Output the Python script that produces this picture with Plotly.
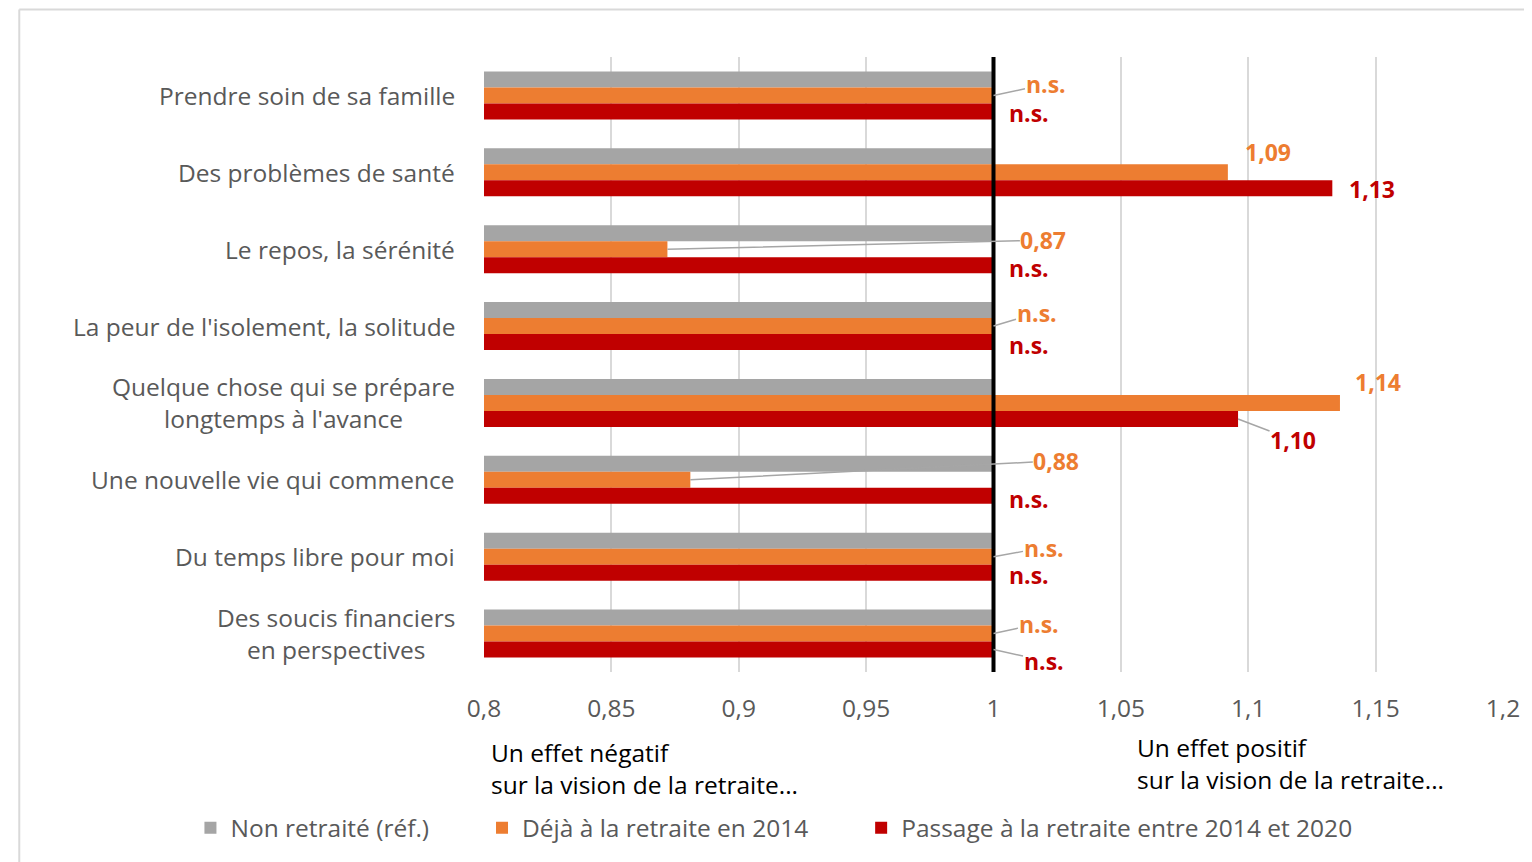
import plotly.graph_objects as go

categories = [
    "Prendre soin de sa famille",
    "Des problèmes de santé",
    "Le repos, la sérénité",
    "La peur de l'isolement, la solitude",
    "Quelque chose qui se prépare<br>longtemps à l'avance",
    "Une nouvelle vie qui commence",
    "Du temps libre pour moi",
    "Des soucis financiers<br>en perspectives",
]
non_retraite = [1, 1, 1, 1, 1, 1, 1, 1]
deja_retraite = [1, 1.092, 0.872, 1, 1.136, 0.881, 1, 1]
passage_retraite = [1, 1.133, 1, 1, 1.096, 1, 1, 1]
labels_deja = ["n.s.", "1,09", "0,87", "n.s.", "1,14", "0,88", "n.s.", "n.s."]
labels_passage = ["n.s.", "1,13", "n.s.", "n.s.", "1,10", "n.s.", "n.s.", "n.s."]
series_names = ["Non retraité (réf.)", "Déjà à la retraite en 2014",
                "Passage à la retraite entre 2014 et 2020"]
x_ticks = [0.8, 0.85, 0.9, 0.95, 1, 1.05, 1.1, 1.15, 1.2]
x_ticktext = ["0,8", "0,85", "0,9", "0,95", "1", "1,05", "1,1", "1,15", "1,2"]

GRAY = "#A5A5A5"
ORANGE = "#ED7D31"
RED = "#C00000"
FONT = "Open Sans"
TXT = "#595959"

OFF = 8  # page body margin
W, H = 1532 - OFF, 862 - OFF
ML, MT = 484 - OFF, 57 - OFF
MR = W - (1508 - OFF)
MB = H - (673 - OFF)
PW = W - ML - MR
PH = H - MT - MB


def px_x(px):
    return (px - OFF - ML) / PW


def px_y(py):
    return (H - MB - (py - OFF)) / PH


fig = go.Figure()
for name, vals, col, lg in zip(series_names,
                               [non_retraite, deja_retraite, passage_retraite],
                               [GRAY, ORANGE, RED],
                               ["legend", "legend2", "legend3"]):
    fig.add_trace(go.Bar(y=categories, x=vals, orientation="h", name=name,
                         marker=dict(color=col, line=dict(width=0)),
                         legend=lg))

FS = 24.5
annotations = []
for c in categories:
    annotations.append(dict(xref="paper", x=px_x(457), y=c, yref="y",
                            text=c, showarrow=False, xanchor="right",
                            align="center", font=dict(family=FONT, size=FS, color=TXT)))

orange_pos = [
    ("arrow", 52, -11), ("shift", 40, 20), ("arrow", 376, -9), ("arrow", 43, -13),
    ("shift", 38, 21), ("arrow", 366, -19), ("arrow", 50, -9), ("arrow", 45, -10),
]
LFS = 23
for c, v, t, (mode, dx, dy) in zip(categories, deja_retraite, labels_deja, orange_pos):
    f = dict(family=FONT, size=LFS, color=ORANGE)
    if mode == "arrow":
        annotations.append(dict(x=v, y=c, xref="x", yref="y", text="<b>" + t + "</b>",
                                showarrow=True, ax=dx, ay=dy, arrowhead=0, arrowwidth=1.5,
                                arrowcolor="#A6A6A6", standoff=0, borderpad=0, font=f))
    else:
        annotations.append(dict(x=v, y=c, xref="x", yref="y", text="<b>" + t + "</b>",
                                showarrow=False, xshift=dx, yshift=dy, borderpad=0, font=f))

red_pos = [
    ("shift", 35, -18), ("shift", 40, -17), ("shift", 35, -19), ("shift", 35, -19),
    ("arrow", 55, 21), ("shift", 35, -19), ("shift", 35, -18), ("arrow", 50, 11),
]
for c, v, t, (mode, dx, dy) in zip(categories, passage_retraite, labels_passage, red_pos):
    f = dict(family=FONT, size=LFS, color=RED)
    if mode == "arrow":
        annotations.append(dict(x=v, y=c, xref="x", yref="y", text="<b>" + t + "</b>",
                                showarrow=True, ax=dx, ay=dy, yshift=-16, arrowhead=0,
                                arrowwidth=1.5, arrowcolor="#A6A6A6", standoff=0,
                                borderpad=0, font=f))
    else:
        annotations.append(dict(x=v, y=c, xref="x", yref="y", text="<b>" + t + "</b>",
                                showarrow=False, xshift=dx, yshift=dy, borderpad=0, font=f))

annotations.append(dict(xref="paper", yref="paper", x=px_x(489), y=px_y(735),
                        xanchor="left", yanchor="top", align="left", showarrow=False,
                        text="Un effet négatif<br>sur la vision de la retraite...",
                        font=dict(family=FONT, size=FS, color="#000000")))
annotations.append(dict(xref="paper", yref="paper", x=px_x(1138), y=px_y(730),
                        xanchor="left", yanchor="top", align="left", showarrow=False,
                        text="Un effet positif<br>sur la vision de la retraite...",
                        font=dict(family=FONT, size=FS, color="#000000")))

shapes = [
    dict(type="line", xref="x", yref="paper", x0=1, x1=1, y0=0, y1=1,
         line=dict(color="#000000", width=4), layer="above"),
    dict(type="line", xref="paper", yref="paper", x0=px_x(17), x1=px_x(1540),
         y0=px_y(9.5), y1=px_y(9.5), line=dict(color="#D9D9D9", width=2)),
    dict(type="line", xref="paper", yref="paper", x0=px_x(17), x1=px_x(17),
         y0=px_y(9.5), y1=px_y(870), line=dict(color="#D9D9D9", width=2)),
]

leg_font = dict(family=FONT, size=FS, color=TXT)
ly = px_y(829)
fig.update_layout(
    width=W, height=H,
    margin=dict(l=ML, r=MR, t=MT, b=MB),
    paper_bgcolor="white", plot_bgcolor="white",
    barmode="group", bargap=0.377, bargroupgap=0,
    xaxis=dict(range=[0.8, 1.2], tickvals=x_ticks, ticktext=x_ticktext,
               showgrid=True, gridcolor="#D9D9D9", gridwidth=1.5, zeroline=False,
               showline=False, ticks="", ticklabelstandoff=19,
               tickfont=dict(family=FONT, size=FS, color=TXT), fixedrange=True),
    yaxis=dict(categoryorder="array", categoryarray=categories, autorange="reversed",
               showticklabels=False, showgrid=False, zeroline=False, ticks=""),
    annotations=annotations,
    shapes=shapes,
    showlegend=True,
    legend=dict(x=px_x(189), y=ly, xanchor="left", yanchor="middle",
                orientation="h", font=leg_font, bgcolor="rgba(0,0,0,0)"),
    legend2=dict(x=px_x(482), y=ly, xanchor="left", yanchor="middle",
                 orientation="h", font=leg_font, bgcolor="rgba(0,0,0,0)"),
    legend3=dict(x=px_x(863), y=ly, xanchor="left", yanchor="middle",
                 orientation="h", font=leg_font, bgcolor="rgba(0,0,0,0)"),
)

fig.write_html("out.html")
